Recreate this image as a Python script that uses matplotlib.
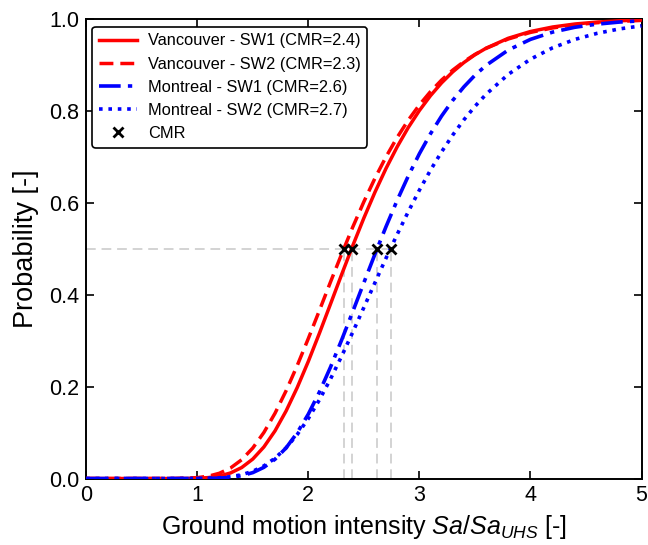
import numpy as np
import matplotlib
matplotlib.use("Agg")
import matplotlib.pyplot as plt

plt.rcParams['font.family'] = ['Liberation Sans', 'DejaVu Sans']
plt.rcParams['mathtext.fontset'] = 'custom'
plt.rcParams['mathtext.rm'] = 'Liberation Sans'
plt.rcParams['mathtext.it'] = 'Liberation Sans:italic'

# intensity grid (Sa/Sa_UHS) at which the curves were read
x_vals = [0.0, 0.5, 0.8, 1.0, 1.1, 1.2, 1.3, 1.4, 1.5, 1.6, 1.7, 1.8, 1.9, 2.0,
          2.1, 2.2, 2.3, 2.4, 2.5, 2.6, 2.7, 2.8, 2.9, 3.0, 3.1, 3.2, 3.3, 3.4,
          3.5, 3.6, 3.8, 4.0, 4.2, 4.4, 4.6, 4.8, 5.0]

van_sw1 = [0.0, 0.0, 0.0, 0.0006, 0.0020, 0.0054, 0.0121, 0.0238, 0.0423, 0.0686,
           0.1035, 0.1469, 0.1977, 0.2546, 0.3159, 0.3795, 0.4435, 0.5062, 0.5662,
           0.6225, 0.6743, 0.7211, 0.7631, 0.8000, 0.8323, 0.8602, 0.8840, 0.9042,
           0.9212, 0.9354, 0.9571, 0.9718, 0.9816, 0.9881, 0.9923, 0.9951, 0.9969]
van_sw2 = [0.0, 0.0, 0.0, 0.0019, 0.0050, 0.0115, 0.0229, 0.0408, 0.0663, 0.1001,
           0.1418, 0.1908, 0.2455, 0.3043, 0.3654, 0.4274, 0.4880, 0.5466, 0.6016,
           0.6528, 0.6995, 0.7416, 0.7791, 0.8122, 0.8411, 0.8663, 0.8878, 0.9062,
           0.9219, 0.9351, 0.9555, 0.9698, 0.9796, 0.9863, 0.9909, 0.9939, 0.9959]
mtl_sw1 = [0.0, 0.0, 0.0, 0.0001, 0.0003, 0.0009, 0.0025, 0.0061, 0.0128, 0.0243,
           0.0418, 0.0666, 0.0994, 0.1400, 0.1880, 0.2423, 0.3012, 0.3628, 0.4256,
           0.4878, 0.5478, 0.6048, 0.6576, 0.7061, 0.7495, 0.7881, 0.8220, 0.8513,
           0.8766, 0.8981, 0.9315, 0.9547, 0.9705, 0.9810, 0.9878, 0.9923, 0.9951]
mtl_sw2 = [0.0, 0.0, 0.0, 0.0002, 0.0006, 0.0016, 0.0039, 0.0082, 0.0157, 0.0274,
           0.0441, 0.0667, 0.0956, 0.1303, 0.1711, 0.2165, 0.2660, 0.3181, 0.3718,
           0.4258, 0.4792, 0.5307, 0.5801, 0.6269, 0.6704, 0.7102, 0.7466, 0.7796,
           0.8090, 0.8352, 0.8786, 0.9116, 0.9364, 0.9546, 0.9678, 0.9774, 0.9841]

# collapse margin ratios (median of each curve)
cmr_x = [2.39, 2.32, 2.62, 2.74]
cmr_y = [0.5, 0.5, 0.5, 0.5]

labels = ['Vancouver - SW1 (CMR=2.4)', 'Vancouver - SW2 (CMR=2.3)',
          'Montreal - SW1 (CMR=2.6)', 'Montreal - SW2 (CMR=2.7)']

fig = plt.figure(figsize=(6.48, 5.45), dpi=100)
ax = fig.add_axes([0.133, 0.122, 0.857, 0.844])

# grey guide lines
grey = '#d3d3d3'
ax.plot([0, max(cmr_x)], [0.5, 0.5], color=grey, lw=1.4, ls=(0, (5, 3)), zorder=1)
for c in cmr_x:
    ax.plot([c, c], [0, 0.5], color=grey, lw=1.4, ls=(0, (5, 3)), zorder=1)

ax.plot(x_vals, van_sw1, color='red', lw=2.5, ls='-', label=labels[0], zorder=3)
ax.plot(x_vals, van_sw2, color='red', lw=2.5, ls=(0, (4, 2)), label=labels[1], zorder=3)
ax.plot(x_vals, mtl_sw1, color='blue', lw=2.6, ls=(0, (6, 2, 1.2, 2)), label=labels[2], zorder=3)
ax.plot(x_vals, mtl_sw2, color='blue', lw=2.6, ls=(0, (1, 1.6)), label=labels[3], zorder=3)
ax.plot(cmr_x, cmr_y, 'x', color='black', ms=7, mew=2, ls='none', label='CMR', zorder=4)

ax.set_xlim(0, 5)
ax.set_ylim(0, 1)
ax.set_xticks([0, 1, 2, 3, 4, 5])
ax.set_yticks([0.0, 0.2, 0.4, 0.6, 0.8, 1.0])
ax.set_yticklabels(['0.0', '0.2', '0.4', '0.6', '0.8', '1.0'])
ax.tick_params(direction='in', top=True, right=True, length=6, width=1.2,
               labelsize=15.5, pad=5)
for s in ax.spines.values():
    s.set_linewidth(1.4)

ax.set_xlabel('Ground motion intensity $Sa/Sa_{UHS}$ [-]', fontsize=18, labelpad=5)
ax.set_ylabel('Probability [-]', fontsize=19.5, labelpad=7)

leg = ax.legend(loc='upper left', fontsize=11.8, frameon=True, fancybox=True,
                handlelength=2.3, handletextpad=0.7, borderpad=0.4,
                labelspacing=0.5, borderaxespad=0,
                bbox_to_anchor=(0.011, 0.982))
leg.get_frame().set_edgecolor('black')
leg.get_frame().set_linewidth(1.2)
leg.get_frame().set_alpha(1)

fig.savefig('out.png', dpi=100)
